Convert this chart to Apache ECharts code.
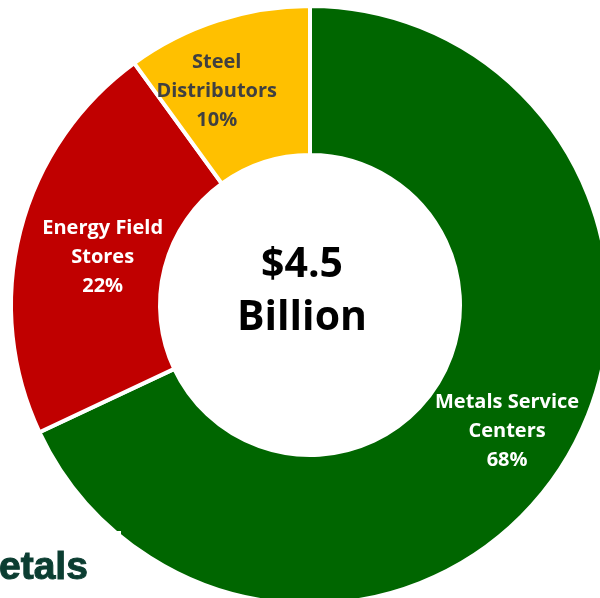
<!DOCTYPE html>
<html>
<head>
<meta charset="utf-8">
<title>Revenue by Segment</title>
<script src="https://cdn.jsdelivr.net/npm/echarts@6/dist/echarts.min.js"></script>
<style>
  html, body { margin: 0; padding: 0; background: #ffffff; }
  #chart { width: 600px; height: 598px; }
</style>
</head>
<body>
<div id="chart"></div>
<script>
// Segment shares of total revenue (percent), clockwise from 12 o'clock
const segments = ['Metals Service\nCenters', 'Energy Field\nStores', 'Steel\nDistributors'];
const shares = [68, 22, 10];
const segmentColors = ['#006600', '#C00000', '#FFC000'];
const labelColors = ['#ffffff', '#ffffff', '#404040'];
const totalText = '$4.5\nBillion';
const logoText = 'etals';

// Small nudges so each label sits where it reads best inside its slice
const labelNudge = [[5, 4], [13, 9], [-23, 3]];

const chart = echarts.init(document.getElementById('chart'), null, { renderer: 'canvas' });

chart.setOption({
  backgroundColor: '#ffffff',
  animation: false,
  series: [{
    type: 'pie',
    center: [310, 305],
    radius: [150, 299],
    startAngle: 90,
    clockwise: true,
    avoidLabelOverlap: false,
    itemStyle: { borderColor: '#ffffff', borderWidth: 4 },
    label: {
      show: true,
      position: 'inside',
      formatter: '{b}\n{c}%',
      fontFamily: 'Open Sans',
      fontWeight: 'bold',
      fontSize: 20,
      lineHeight: 29,
      align: 'center'
    },
    labelLine: { show: false },
    emphasis: { disabled: true },
    labelLayout: function (p) {
      const n = labelNudge[p.dataIndex];
      return { dx: n[0], dy: n[1] };
    },
    data: segments.map(function (name, i) {
      return {
        name: name,
        value: shares[i],
        itemStyle: { color: segmentColors[i] },
        label: { color: labelColors[i] }
      };
    })
  }],
  graphic: [
    {
      type: 'text',
      x: 302,
      y: 239,
      z: 10,
      style: {
        text: totalText,
        align: 'center',
        fontFamily: 'Open Sans',
        fontWeight: 'bold',
        fontSize: 41,
        lineHeight: 53,
        fill: '#000000'
      }
    },
    {
      type: 'rect',
      z: 20,
      shape: { x: 0, y: 531, width: 121, height: 67 },
      style: { fill: '#ffffff' }
    },
    {
      type: 'text',
      z: 21,
      x: -1,
      y: 549,
      style: {
        text: logoText,
        fontFamily: 'Liberation Sans',
        fontWeight: 'bold',
        fontSize: 39,
        fill: '#0b3d31',
        stroke: '#0b3d31',
        lineWidth: 1
      }
    }
  ]
});
</script>
</body>
</html>
